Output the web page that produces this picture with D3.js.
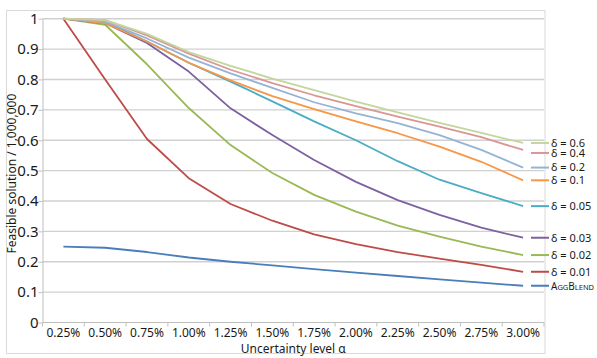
<!DOCTYPE html>
<html>
<head>
<meta charset="utf-8">
<script src="https://cdn.jsdelivr.net/npm/d3@7"></script>
<style>
  body { margin: 0; background: #fff; }
  text { font-family: "Noto Sans", sans-serif; fill: #1a1a1a; }
</style>
</head>
<body>
<div class="chart"></div>
<script>
// categories on the x axis
const categories = ['0.25%', '0.50%', '0.75%', '1.00%', '1.25%', '1.50%',
    '1.75%', '2.00%', '2.25%', '2.50%', '2.75%', '3.00%'];

// series values (feasible solution / 1,000,000)
const delta06 = [1, 0.995, 0.95, 0.89, 0.845, 0.803, 0.765, 0.727, 0.692, 0.657, 0.624, 0.591];
const delta04 = [1, 0.995, 0.945, 0.885, 0.832, 0.788, 0.748, 0.712, 0.678, 0.645, 0.61, 0.568];
const delta02 = [1, 0.99, 0.935, 0.872, 0.82, 0.772, 0.725, 0.688, 0.656, 0.617, 0.568, 0.51];
const delta01 = [1, 0.985, 0.925, 0.855, 0.797, 0.745, 0.702, 0.662, 0.623, 0.579, 0.529, 0.468];
const delta005 = [1, 0.99, 0.925, 0.855, 0.793, 0.728, 0.662, 0.6, 0.531, 0.47, 0.426, 0.383];
const delta003 = [1, 0.985, 0.92, 0.826, 0.705, 0.617, 0.535, 0.463, 0.403, 0.354, 0.312, 0.279];
const delta002 = [1, 0.98, 0.85, 0.706, 0.584, 0.492, 0.42, 0.365, 0.319, 0.283, 0.25, 0.222];
const delta001 = [1, 0.8, 0.604, 0.475, 0.39, 0.335, 0.29, 0.258, 0.232, 0.21, 0.19, 0.167];
const aggBlend = [0.25, 0.246, 0.232, 0.214, 0.2, 0.188, 0.176, 0.164, 0.153, 0.142, 0.131, 0.121];

const seriesNames = ['δ = 0.6', 'δ = 0.4', 'δ = 0.2', 'δ = 0.1', 'δ = 0.05',
    'δ = 0.03', 'δ = 0.02', 'δ = 0.01', 'AggBlend'];
const seriesColors = ['#c3d69b', '#d99694', '#95b3d7', '#f79646', '#4bacc6',
    '#7d60a0', '#98b954', '#be4b48', '#4a7ebb'];

// y tick labels
const yTicks = [0, 0.1, 0.2, 0.3, 0.4, 0.5, 0.6, 0.7, 0.8, 0.9, 1];
const yTickLabels = ['0', '0.1', '0.2', '0.3', '0.4', '0.5', '0.6', '0.7', '0.8', '0.9', '1'];

const series = [delta06, delta04, delta02, delta01, delta005, delta003, delta002, delta001, aggBlend]
    .map((values, i) => ({ name: seriesNames[i], color: seriesColors[i], values }));

const fullWidth = 597;
const fullHeight = 358;
const plot = { left: 42.5, right: 544, top: 18.7, bottom: 322.5 };

const svg = d3.select('.chart')
    .append('svg')
        .attr('width', fullWidth)
        .attr('height', fullHeight);

svg.append('rect')
    .attr('width', fullWidth)
    .attr('height', fullHeight)
    .attr('fill', '#fff');

// outer chart border
svg.append('rect')
    .attr('x', 6.5)
    .attr('y', 10.5)
    .attr('width', 538.5)
    .attr('height', 343)
    .attr('fill', 'none')
    .attr('stroke', '#d9d9d9')
    .attr('stroke-width', 1);

const xScale = d3.scaleBand()
    .domain(categories)
    .range([plot.left, plot.right])
    .padding(0);

const xCenter = c => xScale(c) + xScale.bandwidth() / 2;

const yScale = d3.scaleLinear()
    .domain([0, 1])
    .range([plot.bottom, plot.top]);

// gridlines
svg.append('g')
    .selectAll('line')
    .data(yTicks.slice(1))
    .enter()
    .append('line')
        .attr('x1', plot.left)
        .attr('x2', plot.right)
        .attr('y1', d => yScale(d))
        .attr('y2', d => yScale(d))
        .attr('stroke', '#d0d0d0')
        .attr('stroke-width', 1.4);

// y axis
const yAxis = d3.axisLeft(yScale)
    .tickValues(yTicks)
    .tickFormat((d, i) => yTickLabels[i])
    .tickSize(4)
    .tickPadding(0)
    .tickSizeOuter(0);

const yG = svg.append('g')
    .attr('transform', `translate(${plot.left}, 0)`)
    .call(yAxis);
yG.selectAll('path, line').attr('stroke', '#bfbfbf');
yG.selectAll('text')
    .style('font-size', '15px')
    .style('font-family', '"Noto Sans", sans-serif')
    .attr('fill', '#1a1a1a');

// x axis: line, ticks at category boundaries, labels at centres
const xG = svg.append('g');
xG.append('line')
    .attr('x1', plot.left)
    .attr('x2', plot.right)
    .attr('y1', plot.bottom)
    .attr('y2', plot.bottom)
    .attr('stroke', '#bfbfbf');
xG.selectAll('line.tick')
    .data(categories)
    .enter()
    .append('line')
        .attr('class', 'tick')
        .attr('x1', d => xScale(d))
        .attr('x2', d => xScale(d))
        .attr('y1', plot.bottom)
        .attr('y2', plot.bottom + 4)
        .attr('stroke', '#bfbfbf');
xG.append('line')
    .attr('x1', plot.right)
    .attr('x2', plot.right)
    .attr('y1', plot.bottom)
    .attr('y2', plot.bottom + 4)
    .attr('stroke', '#bfbfbf');
xG.selectAll('text')
    .data(categories)
    .enter()
    .append('text')
        .attr('x', d => xCenter(d))
        .attr('y', 337)
        .attr('text-anchor', 'middle')
        .style('font-size', '12px')
        .text(d => d);

// axis titles
svg.append('text')
    .attr('x', (plot.left + plot.right) / 2)
    .attr('y', 353)
    .attr('text-anchor', 'middle')
    .style('font-size', '12px')
    .text('Uncertainty level α');

svg.append('text')
    .attr('transform', `translate(16, ${(plot.top + plot.bottom) / 2 + 3}) rotate(-90)`)
    .attr('text-anchor', 'middle')
    .style('font-size', '12px')
    .text('Feasible solution / 1,000,000');

// series lines (drawn bottom series first)
const line = d3.line()
    .x((d, i) => xCenter(categories[i]))
    .y(d => yScale(d));

svg.append('g')
    .selectAll('path')
    .data(series.slice().reverse())
    .enter()
    .append('path')
        .attr('d', d => line(d.values))
        .attr('fill', 'none')
        .attr('stroke', d => d.color)
        .attr('stroke-width', 1.8)
        .attr('stroke-linejoin', 'round');

// legend: one label per line end, pushed apart where they collide
const ends = series.map(s => yScale(s.values[s.values.length - 1]));
const labelY = [];
ends.forEach((y, i) => {
    labelY.push(i > 0 ? Math.max(y, labelY[i - 1] + 10) : y);
});

const legend = svg.append('g')
    .selectAll('g')
    .data(series)
    .enter()
    .append('g')
        .attr('transform', (d, i) => `translate(531, ${labelY[i]})`);

legend.append('line')
    .attr('x1', 0)
    .attr('x2', 18)
    .attr('stroke', d => d.color)
    .attr('stroke-width', 2);

const legendText = legend.append('text')
    .attr('x', 20)
    .attr('dy', '0.35em')
    .style('font-size', '11px');

legendText.filter(d => d.name !== 'AggBlend')
    .text(d => d.name);

// small caps by hand: capitals full size, the rest smaller and upper-cased
legendText.filter(d => d.name === 'AggBlend')
    .selectAll('tspan')
    .data(d => d.name.match(/[A-Z][a-z]*/g))
    .enter()
    .append('tspan')
        .each(function(part) {
            const t = d3.select(this);
            t.append('tspan').style('font-size', '10px').text(part[0]);
            t.append('tspan').style('font-size', '7.5px').text(part.slice(1).toUpperCase());
        });
</script>
</body>
</html>
